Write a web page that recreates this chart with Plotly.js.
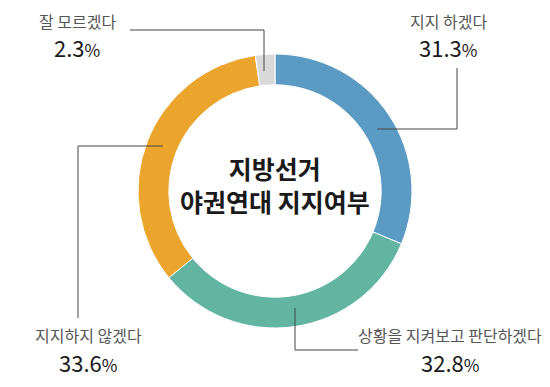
<!DOCTYPE html>
<html>
<head>
<meta charset="utf-8">
<script src="https://cdn.plot.ly/plotly-3.0.1.min.js"></script>
<style>html,body{margin:0;padding:0;background:#fff;}#chart{width:550px;height:387px;}</style>
</head>
<body>
<div id="chart"></div>
<script>
const categories = ["지지 하겠다", "상황을 지켜보고 판단하겠다", "지지하지 않겠다", "잘 모르겠다"];
const values = [31.3, 32.8, 33.6, 2.3];
const colors = ["#5A9AC3", "#62B5A1", "#EBA42C", "#D9D9D9"];
const centerTitle = ["지방선거", "야권연대 지지여부"];

const W = 550, H = 387;
const px = x => x / W;
const py = y => 1 - y / H;

const cx = 275, cy = 191, R = 137;
const FONT = "Noto Sans CJK KR, Noto Sans, sans-serif";

const trace = {
  type: "pie",
  labels: categories,
  values: values,
  sort: false,
  direction: "clockwise",
  rotation: 0,
  hole: 0.775,
  marker: {colors: colors, line: {color: "#ffffff", width: 1}},
  textinfo: "none",
  hoverinfo: "label+percent",
  showlegend: false,
  domain: {x: [px(cx - R), px(cx + R)], y: [py(cy + R), py(cy - R)]}
};

// label placements (pixel positions of text centers)
const labelPos = [
  {x: 448, yl: 21, yn: 47},
  {x: 450, yl: 335, yn: 362},
  {x: 88, yl: 335, yn: 362},
  {x: 77, yl: 21, yn: 47}
];

const annotations = [];
categories.forEach((c, i) => {
  const p = labelPos[i];
  annotations.push({
    x: px(p.x), y: py(p.yl), xref: "paper", yref: "paper",
    xanchor: "center", yanchor: "middle", showarrow: false, borderpad: 0,
    text: c, font: {family: FONT, size: 16, color: "#555555"}
  });
  annotations.push({
    x: px(p.x), y: py(p.yn), xref: "paper", yref: "paper",
    xanchor: "center", yanchor: "middle", showarrow: false, borderpad: 0,
    text: values[i].toFixed(1) + '<span style="font-size:17px">%</span>',
    font: {family: FONT, size: 22, color: "#1a1a1a"}
  });
});
annotations.push({
  x: px(cx), y: py(184), xref: "paper", yref: "paper",
  xanchor: "center", yanchor: "middle", showarrow: false,
  text: centerTitle.join("<br>"),
  font: {family: FONT, size: 25, color: "#1a1a1a", weight: "bold"}
});

// leader line paths (pixel coords)
const leaders = [
  [[377, 129], [457, 129], [457, 68]],
  [[295, 308], [295, 350], [358, 350]],
  [[163, 146], [78, 146], [78, 318]],
  [[264, 71], [264, 30], [130, 30]]
];
const shapes = [];
leaders.forEach(pts => {
  for (let k = 0; k < pts.length - 1; k++) {
    shapes.push({
      type: "line", xref: "paper", yref: "paper",
      x0: px(pts[k][0]), y0: py(pts[k][1]), x1: px(pts[k+1][0]), y1: py(pts[k+1][1]),
      line: {color: "#444444", width: 1}
    });
  }
});

const layout = {
  width: W, height: H,
  margin: {l: 0, r: 0, t: 0, b: 0},
  paper_bgcolor: "#ffffff",
  plot_bgcolor: "#ffffff",
  annotations: annotations,
  shapes: shapes
};

Plotly.newPlot("chart", [trace], layout, {displayModeBar: false, staticPlot: true});
</script>
</body>
</html>
